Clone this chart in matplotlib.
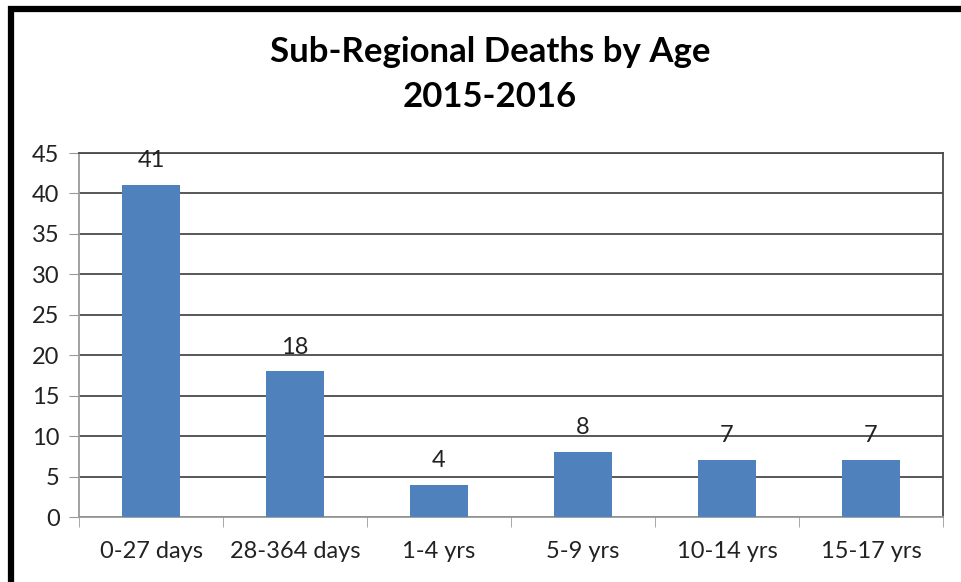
import matplotlib
matplotlib.use("Agg")
import matplotlib.pyplot as plt
from matplotlib.patches import Rectangle

# Chart data
age_groups = ["0-27 days", "28-364 days", "1-4 yrs", "5-9 yrs", "10-14 yrs", "15-17 yrs"]
deaths = [41, 18, 4, 8, 7, 7]
y_ticks = [0, 5, 10, 15, 20, 25, 30, 35, 40, 45]

plt.rcParams['font.family'] = ['Lato', 'DejaVu Sans']

fig = plt.figure(figsize=(9.62, 5.82), dpi=100)
ax = fig.add_axes([79/962, 1 - 517/582, 864/962, 364/582])

x = range(len(age_groups))
bars = ax.bar(x, deaths, width=0.4, color="#4F81BD", zorder=3)

ax.set_xlim(-0.5, len(age_groups) - 0.5)
ax.set_ylim(0, 45)
ax.set_yticks(y_ticks)
ax.set_xticks(list(x))
ax.set_xticklabels(age_groups, fontsize=17, color="#222222")
ax.tick_params(axis="y", labelsize=17, labelcolor="#222222", length=7, color="#9a9a9a", pad=7)
ax.tick_params(axis="x", length=0, pad=17)
# ticks between categories
ax.set_xticks([i - 0.5 for i in range(len(age_groups) + 1)], minor=True)
ax.tick_params(axis="x", which="minor", length=7, color="#9a9a9a")

ax.grid(axis="y", color="#4a4a4a", linewidth=1.3, zorder=0)
ax.spines["left"].set_color("#9a9a9a")
ax.spines["bottom"].set_color("#9a9a9a")
ax.spines["top"].set_color("#4a4a4a")
ax.spines["right"].set_color("#4a4a4a")
for s in ax.spines.values():
    s.set_linewidth(1.3)

for b, v in zip(bars, deaths):
    ax.annotate(str(v), (b.get_x() + b.get_width() / 2, v), xytext=(0, 10),
                textcoords="offset points", ha="center", va="bottom",
                fontsize=17, color="#222222")

fig.text(490/962, 1 - 52/582, "Sub-Regional Deaths by Age", ha="center", va="center",
         fontsize=25, fontweight="bold")
fig.text(490/962, 1 - 97/582, "2015-2016", ha="center", va="center",
         fontsize=25, fontweight="bold")

# thick outer frame (only left and top visible in the crop)
fig.patches.append(Rectangle((11/962, -0.1), 1.1, 1 - 9/582 + 0.1, transform=fig.transFigure,
                             fill=False, edgecolor="black", linewidth=4.5))

fig.savefig("out.png", dpi=100)
